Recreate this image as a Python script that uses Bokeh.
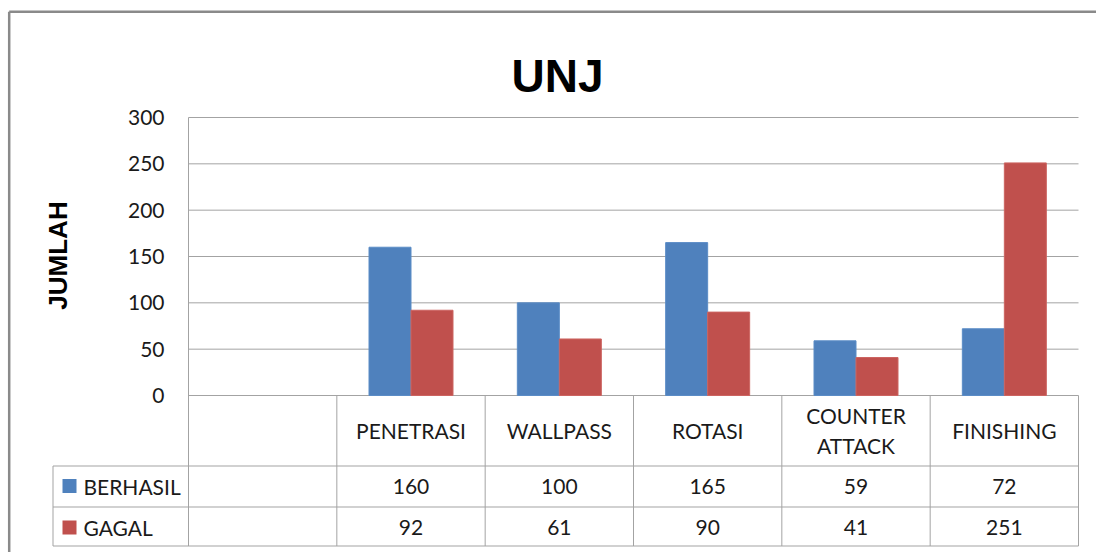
import math
from bokeh.plotting import figure
from bokeh.models import Range1d
from bokeh.core.properties import value
from bokeh.embed import file_html
from bokeh.resources import INLINE

# ---------------- data ----------------
categories = ["", "PENETRASI", "WALLPASS", "ROTASI", "COUNTER\nATTACK", "FINISHING"]
berhasil = [None, 160, 100, 165, 59, 72]
gagal = [None, 92, 61, 90, 41, 251]
series_names = ["BERHASIL", "GAGAL"]
y_ticks = [0, 50, 100, 150, 200, 250, 300]
title_text = "UNJ"
y_label = "JUMLAH"

# ---------------- layout helpers ----------------
W, H = 1096, 552
ORG_X, ORG_Y = 0, 0            # picture offset of the figure
PLOT_L, PLOT_R = 188, 1078     # plot-area horizontal extent (px)
ZERO_Y, TOP_Y = 395, 117       # px of y=0 and y=300
ncat = len(categories)
kx = (PLOT_R - PLOT_L) / ncat
ky = (ZERO_Y - TOP_Y) / 300.0


def sx(px):
    return (px - PLOT_L) / kx


def sy(py):
    return (ZERO_Y - py) / ky


p = figure(width=W, height=H, output_backend="svg", toolbar_location=None,
           x_range=Range1d(sx(ORG_X), sx(ORG_X + W)),
           y_range=Range1d(sy(ORG_Y + H), sy(ORG_Y)),
           min_border=0)
p.axis.visible = False
p.grid.visible = False
p.outline_line_color = None
p.background_fill_color = "white"
p.border_fill_color = "white"

FONT = value("Lato")
BOLD = value("Liberation Sans")
GRID = "#a3a3a3"
TXT = "#1a1a1a"
BLUE, RED = "#4F81BD", "#C0504D"

# chart border (left + top visible)
p.segment(x0=[sx(8.7), sx(8.7)], y0=[sy(11.3), sy(11.3)],
          x1=[sx(8.7), sx(1100)], y1=[sy(560), sy(11.3)],
          line_color="#8a8a8a", line_width=2.5)

# gridlines
gt = [t for t in y_ticks if t > 0]
p.segment(x0=[0] * len(gt), y0=gt, x1=[ncat] * len(gt), y1=gt,
          line_color=GRID, line_width=1)

# table / axis lines
row1, row2, row3 = sy(465.5), sy(506.5), sy(545.5)
leg_l = sx(52.5)
xs0 = [0, 0, leg_l, leg_l, leg_l, leg_l]
ys0 = [300, 0, row1, row2, row3, row1]
xs1 = [0, ncat, ncat, ncat, ncat, leg_l]
ys1 = [row3, 0, row1, row2, row3, row3]
for i in range(1, ncat + 1):
    xs0.append(i); ys0.append(0); xs1.append(i); ys1.append(row3)
p.segment(x0=xs0, y0=ys0, x1=xs1, y1=ys1, line_color=GRID, line_width=1)

# bars
bw = 42 / kx
idx = [i for i, v in enumerate(berhasil) if v is not None]
p.vbar(x=[i + 0.5 - bw / 2 for i in idx], top=[berhasil[i] for i in idx],
       bottom=0, width=bw, fill_color=BLUE, line_color="#5b8cc6", line_width=1)
p.vbar(x=[i + 0.5 + bw / 2 for i in idx], top=[gagal[i] for i in idx],
       bottom=0, width=bw, fill_color=RED, line_color="#cc6461", line_width=1)

# y tick labels
p.text(x=[sx(164)] * len(y_ticks), y=y_ticks, text=[str(t) for t in y_ticks],
       text_align="right", text_baseline="middle", text_font=FONT,
       text_font_size="21px", text_color=TXT)

# category header labels
p.text(x=[i + 0.5 for i in range(ncat)], y=[sy(430)] * ncat, text=categories,
       text_align="center", text_baseline="middle", text_font=FONT,
       text_font_size="21px", text_color=TXT, text_line_height=1.23)

# table values
for vals, py in ((berhasil, 486), (gagal, 526.5)):
    p.text(x=[i + 0.5 for i in idx], y=[sy(py)] * len(idx),
           text=[str(vals[i]) for i in idx], text_align="center",
           text_baseline="middle", text_font=FONT, text_font_size="21px",
           text_color=TXT)

# legend keys in table
p.rect(x=[sx(69), sx(69)], y=[sy(485.5), sy(527)], width=14, height=14,
       width_units="screen", height_units="screen",
       fill_color=[BLUE, RED], line_color=None)
p.text(x=[sx(83), sx(83)], y=[sy(486), sy(526.5)], text=series_names,
       text_align="left", text_baseline="middle", text_font=FONT,
       text_font_size="21px", text_color=TXT)

# title
p.text(x=[sx(557)], y=[sy(75)], text=[title_text], text_align="center",
       text_baseline="alphabetic", text_font=BOLD, text_font_style="bold",
       text_font_size="46px", text_color="black")

# y axis title
p.text(x=[sx(57)], y=[sy(255)], text=[y_label], angle=math.pi / 2,
       text_align="center", text_baseline="middle", text_font=BOLD,
       text_font_style="bold", text_font_size="26px", text_color="black")

open("out.html", "w").write(file_html(p, INLINE))
